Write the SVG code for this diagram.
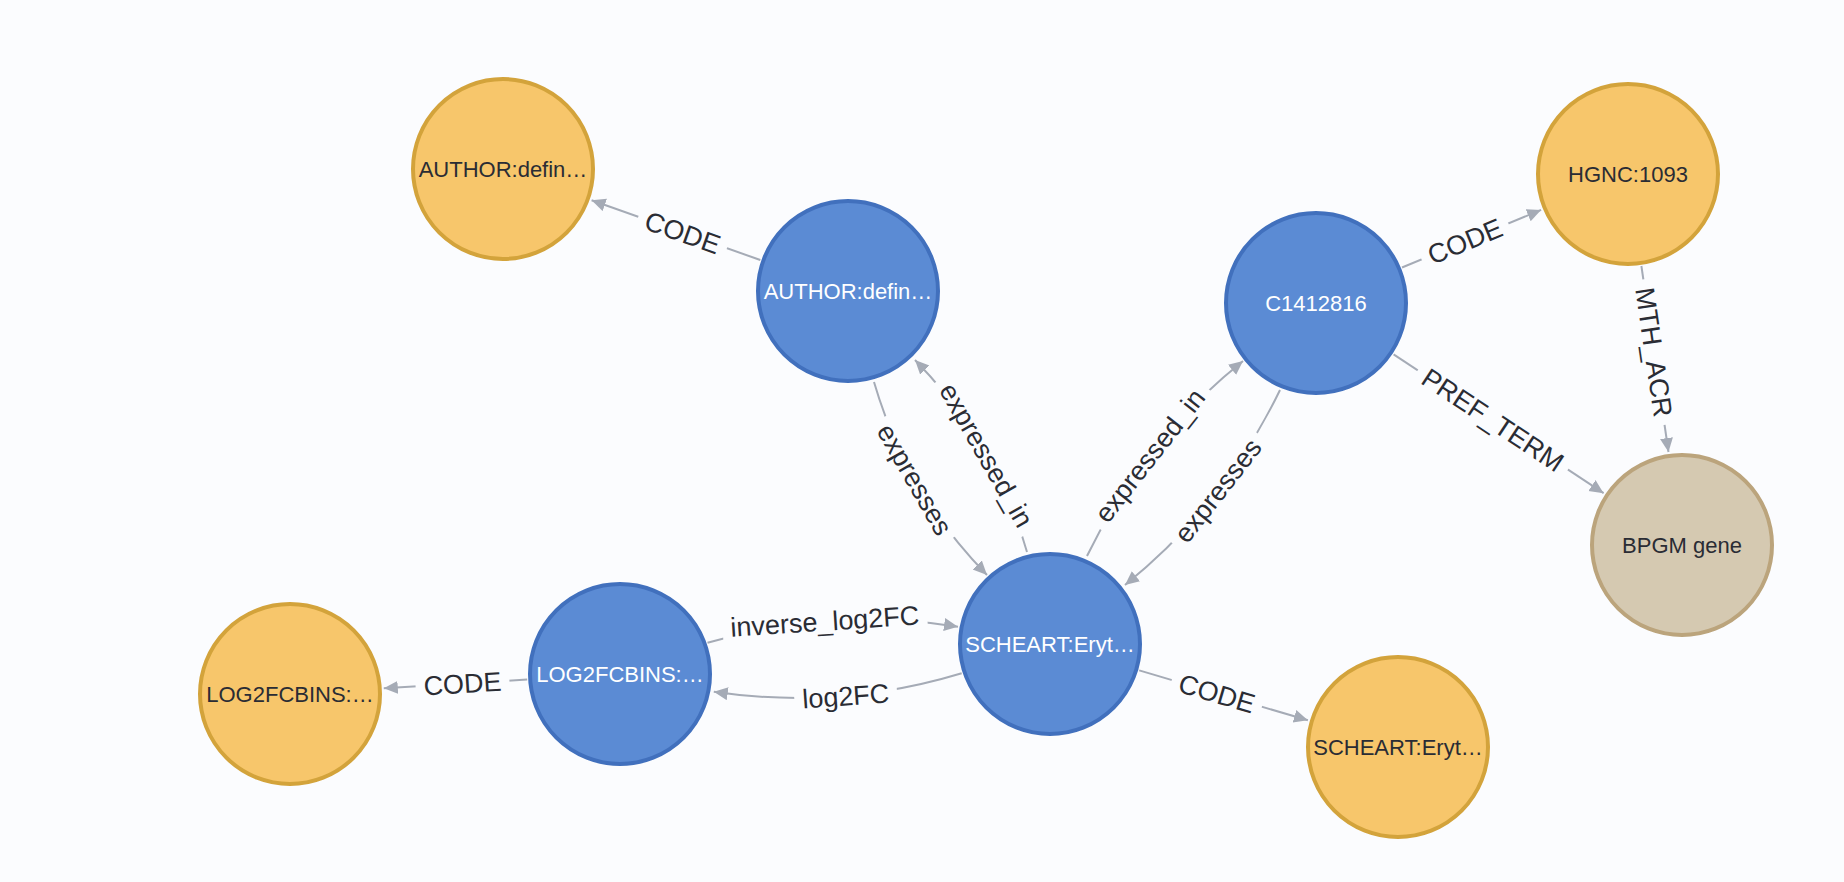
<svg xmlns="http://www.w3.org/2000/svg" width="1844" height="882" viewBox="0 0 1844 882">
<style>
.edge{fill:none;stroke:#A5ABB6;stroke-width:2;marker-end:url(#arrow)}
.lbg{fill:#FBFCFE}
.elabel{font-family:"Liberation Sans",Arial,sans-serif;font-size:27px;fill:#2A2C34;text-anchor:middle}
.nlabel{font-family:"Liberation Sans",Arial,sans-serif;font-size:22px;text-anchor:middle}
.blue circle{fill:#5B8BD4;stroke:#4170BD;stroke-width:4}
.blue text{fill:#FFFFFF}
.orange circle{fill:#F7C66B;stroke:#D3A33B;stroke-width:4}
.orange text{fill:#2A2C34}
.tan circle{fill:#D5C9B1;stroke:#BBA47C;stroke-width:4}
.tan text{fill:#2A2C34}
</style>
<defs>
<marker id="arrow" markerUnits="userSpaceOnUse" markerWidth="16" markerHeight="14" refX="14" refY="6.5" orient="auto">
<path d="M0,0 L14,6.5 L0,13 Z" fill="#A5ABB6"/>
</marker>
</defs>
<rect x="0" y="0" width="1844" height="882" fill="#FBFCFE"/>
<g id="connectors">
<path class="edge" d="M760.3,260 L591.6,200.3"/>
<path class="edge" d="M1402,267.5 L1541.1,209.9"/>
<path class="edge" d="M1393.6,354.3 L1603.6,493.2"/>
<path class="edge" d="M1641.4,266 L1668.5,452"/>
<path class="edge" d="M1139.2,670.4 L1307.9,720.3"/>
<path class="edge" d="M527.2,679.6 L383.8,688.3"/>
<path class="edge" d="M874,382 Q906.2,492.4 987,575"/>
<path class="edge" d="M1027,552 Q995.3,442.1 915,360"/>
<path class="edge" d="M1087,556 Q1142.9,441.3 1243,361"/>
<path class="edge" d="M1280,390 Q1224.6,504.7 1125,585"/>
<path class="edge" d="M707.5,642.7 Q830.8,606.8 958,626.7"/>
<path class="edge" d="M961.7,673.3 Q839.6,710.4 713.8,691.7"/>
<g transform="translate(682.6,232.5) rotate(19.5)"><rect class="lbg" x="-47" y="-13" width="94" height="26"/><text class="elabel" dy="0.35em">CODE</text></g>
<g transform="translate(1465,241.4) rotate(-22.5)"><rect class="lbg" x="-47" y="-13" width="94" height="26"/><text class="elabel" dy="0.35em">CODE</text></g>
<g transform="translate(1492.8,419.9) rotate(33.5)"><rect class="lbg" x="-90" y="-13" width="180" height="26"/><text class="elabel" dy="0.35em">PREF_TERM</text></g>
<g transform="translate(1654,352.1) rotate(81.7)"><rect class="lbg" x="-73.5" y="-13" width="147" height="26"/><text class="elabel" dy="0.35em">MTH_ACR</text></g>
<g transform="translate(1216.8,693.4) rotate(16.5)"><rect class="lbg" x="-47" y="-13" width="94" height="26"/><text class="elabel" dy="0.35em">CODE</text></g>
<g transform="translate(462.5,683.6) rotate(-3.5)"><rect class="lbg" x="-47" y="-13" width="94" height="26"/><text class="elabel" dy="0.35em">CODE</text></g>
<g transform="translate(914.9,479.4) rotate(60.2)"><rect class="lbg" x="-69.5" y="-13" width="139" height="26"/><text class="elabel" dy="0.35em">expresses</text></g>
<g transform="translate(986.6,455.1) rotate(60.2)"><rect class="lbg" x="-88.5" y="-13" width="177" height="26"/><text class="elabel" dy="0.35em">expressed_in</text></g>
<g transform="translate(1149.7,455.4) rotate(-52)"><rect class="lbg" x="-88.5" y="-13" width="177" height="26"/><text class="elabel" dy="0.35em">expressed_in</text></g>
<g transform="translate(1217.8,490.5) rotate(-52)"><rect class="lbg" x="-69.5" y="-13" width="139" height="26"/><text class="elabel" dy="0.35em">expresses</text></g>
<g transform="translate(824.8,621.2) rotate(-3.7)"><rect class="lbg" x="-102.5" y="-13" width="205" height="26"/><text class="elabel" dy="0.35em">inverse_log2FC</text></g>
<g transform="translate(845.7,696) rotate(-4)"><rect class="lbg" x="-51.5" y="-13" width="103" height="26"/><text class="elabel" dy="0.35em">log2FC</text></g>
</g>
<g id="node-author-code" class="orange"><circle cx="503" cy="169" r="90"/><text class="nlabel" x="503" y="169" dy="0.35em">AUTHOR:defin…</text></g>
<g id="node-author" class="blue"><circle cx="848" cy="291" r="90"/><text class="nlabel" x="848" y="291" dy="0.35em">AUTHOR:defin…</text></g>
<g id="node-c1412816" class="blue"><circle cx="1316" cy="303" r="90"/><text class="nlabel" x="1316" y="303" dy="0.35em">C1412816</text></g>
<g id="node-hgnc" class="orange"><circle cx="1628" cy="174" r="90"/><text class="nlabel" x="1628" y="174" dy="0.35em">HGNC:1093</text></g>
<g id="node-bpgm" class="tan"><circle cx="1682" cy="545" r="90"/><text class="nlabel" x="1682" y="545" dy="0.35em">BPGM gene</text></g>
<g id="node-scheart" class="blue"><circle cx="1050" cy="644" r="90"/><text class="nlabel" x="1050" y="644" dy="0.35em">SCHEART:Eryt…</text></g>
<g id="node-scheart-code" class="orange"><circle cx="1398" cy="747" r="90"/><text class="nlabel" x="1398" y="747" dy="0.35em">SCHEART:Eryt…</text></g>
<g id="node-log2fc" class="blue"><circle cx="620" cy="674" r="90"/><text class="nlabel" x="620" y="674" dy="0.35em">LOG2FCBINS:…</text></g>
<g id="node-log2fc-code" class="orange"><circle cx="290" cy="694" r="90"/><text class="nlabel" x="290" y="694" dy="0.35em">LOG2FCBINS:…</text></g>
</svg>
